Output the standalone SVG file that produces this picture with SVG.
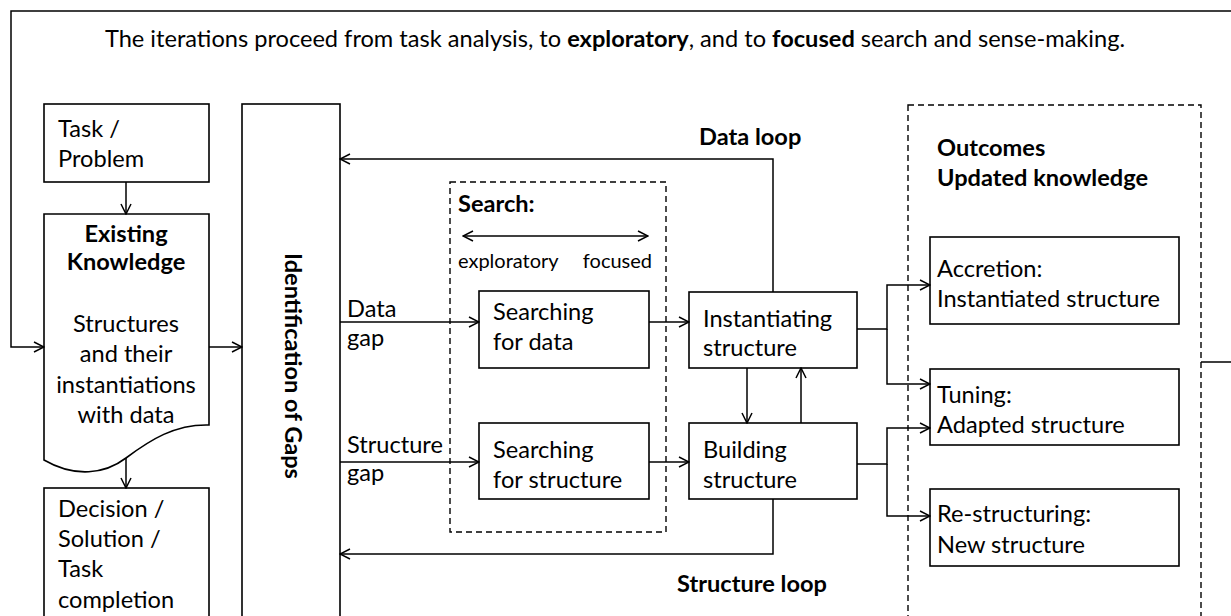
<svg xmlns="http://www.w3.org/2000/svg" width="1231" height="616" viewBox="0 0 1231 616">
<style>
text{font-family:Lato,"Liberation Sans",sans-serif;font-size:23.6px;fill:#000}
.b{font-weight:bold}
.s{font-size:20px}
.box{fill:#fff;stroke:#000;stroke-width:1.6}
.dash{fill:none;stroke:#000;stroke-width:1.4;stroke-dasharray:6 4}
.c{fill:none;stroke:#000;stroke-width:1.5}
</style>
<defs>
<marker id="a" viewBox="0 0 12 12" refX="11" refY="6" markerWidth="12" markerHeight="12" markerUnits="userSpaceOnUse" orient="auto-start-reverse">
<path d="M1,1 L11,6 L1,11" fill="none" stroke="#000" stroke-width="1.5"/>
</marker>
</defs>
<rect width="1231" height="616" fill="#fff"/>
<text x="615" y="47" text-anchor="middle">The iterations proceed from task analysis, to <tspan class="b">exploratory</tspan>, and to <tspan class="b">focused</tspan> search and sense-making.</text>
<g id="search-group">
<rect class="dash" x="450" y="182" width="216" height="350"/>
<text class="b" x="458" y="212">Search:</text>
<text class="s" x="458" y="268">exploratory</text>
<text class="s" x="652" y="268" text-anchor="end">focused</text>
</g>
<g id="outcomes-group">
<rect class="dash" x="908" y="105" width="293" height="530"/>
<text class="b" x="937" y="156">Outcomes</text>
<text class="b" x="937" y="186">Updated knowledge</text>
</g>
<g id="task">
<rect class="box" x="44" y="104" width="165" height="78"/>
<text x="58" y="137">Task /</text>
<text x="58" y="167">Problem</text>
</g>
<g id="existing">
<path class="box" d="M44,214 H209 V425 C175,424 150,440 126,458 C105,474 75,478 44,460 Z"/>
<text class="b" x="126" y="242" text-anchor="middle">Existing</text>
<text class="b" x="126" y="270" text-anchor="middle">Knowledge</text>
<text x="126" y="332" text-anchor="middle">Structures</text>
<text x="126" y="362" text-anchor="middle">and their</text>
<text x="126" y="393" text-anchor="middle">instantiations</text>
<text x="126" y="423" text-anchor="middle">with data</text>
</g>
<g id="decision">
<rect class="box" x="44" y="488" width="165" height="140"/>
<text x="58" y="517">Decision /</text>
<text x="58" y="547">Solution /</text>
<text x="58" y="577">Task</text>
<text x="58" y="608">completion</text>
</g>
<g id="gaps">
<rect class="box" x="242" y="104" width="98" height="530"/>
<text class="b" transform="translate(285,366) rotate(90)" text-anchor="middle">Identification of Gaps</text>
</g>
<g id="search-data">
<rect class="box" x="479" y="291" width="170" height="77"/>
<text x="493" y="320">Searching</text>
<text x="493" y="350">for data</text>
</g>
<g id="search-structure">
<rect class="box" x="479" y="423" width="170" height="76"/>
<text x="493" y="458">Searching</text>
<text x="493" y="488">for structure</text>
</g>
<g id="instantiating">
<rect class="box" x="689" y="292" width="168" height="76"/>
<text x="703" y="327">Instantiating</text>
<text x="703" y="356">structure</text>
</g>
<g id="building">
<rect class="box" x="689" y="423" width="168" height="76"/>
<text x="703" y="458">Building</text>
<text x="703" y="488">structure</text>
</g>
<g id="accretion">
<rect class="box" x="930" y="237" width="249" height="87"/>
<text x="937" y="277">Accretion:</text>
<text x="937" y="307">Instantiated structure</text>
</g>
<g id="tuning">
<rect class="box" x="930" y="369" width="249" height="76"/>
<text x="937" y="403">Tuning:</text>
<text x="937" y="433">Adapted structure</text>
</g>
<g id="restructuring">
<rect class="box" x="930" y="489" width="249" height="77"/>
<text x="937" y="522">Re-structuring:</text>
<text x="937" y="553">New structure</text>
</g>
<g id="connectors">
<path class="c" d="M1201,362 H1240 V11 H11 V347 H44" marker-end="url(#a)"/>
<path class="c" d="M126,182 V214" marker-end="url(#a)"/>
<path class="c" d="M126,458 V488" marker-end="url(#a)"/>
<path class="c" d="M209,347 H242" marker-end="url(#a)"/>
<path class="c" d="M340,322 H479" marker-end="url(#a)"/>
<path class="c" d="M340,462 H479" marker-end="url(#a)"/>
<path class="c" d="M649,322 H689" marker-end="url(#a)"/>
<path class="c" d="M649,462 H689" marker-end="url(#a)"/>
<path class="c" d="M747,368 V423" marker-end="url(#a)"/>
<path class="c" d="M801,423 V368" marker-end="url(#a)"/>
<path class="c" d="M773,292 V159 H340" marker-end="url(#a)"/>
<path class="c" d="M773,499 V554 H340" marker-end="url(#a)"/>
<path class="c" d="M463,236 H648" marker-start="url(#a)" marker-end="url(#a)"/>
<path class="c" d="M857,329 H887 V285 H930" marker-end="url(#a)"/>
<path class="c" d="M887,329 V384 H930" marker-end="url(#a)"/>
<path class="c" d="M857,464 H887 V428 H930" marker-end="url(#a)"/>
<path class="c" d="M887,464 V516 H930" marker-end="url(#a)"/>
<text x="347" y="317">Data</text>
<text x="347" y="346">gap</text>
<text x="347" y="453">Structure</text>
<text x="347" y="481">gap</text>
<text class="b" x="699" y="145">Data loop</text>
<text class="b" x="677" y="592">Structure loop</text>
</g>
</svg>
